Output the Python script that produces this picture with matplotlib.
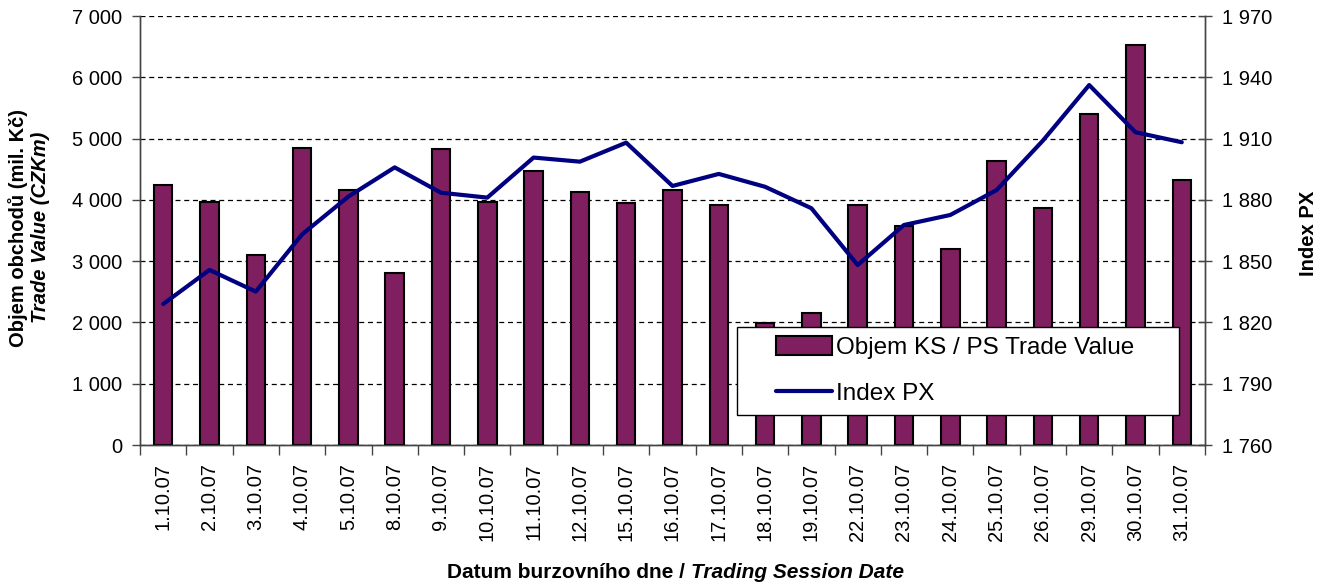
import numpy as np
import matplotlib
matplotlib.use("Agg")
import matplotlib.pyplot as plt
from matplotlib.patches import Rectangle
from matplotlib.ticker import FuncFormatter, FixedLocator

plt.rcParams['font.family'] = ['Liberation Sans', 'DejaVu Sans']

dates = ["1.10.07", "2.10.07", "3.10.07", "4.10.07", "5.10.07", "8.10.07",
         "9.10.07", "10.10.07", "11.10.07", "12.10.07", "15.10.07", "16.10.07",
         "17.10.07", "18.10.07", "19.10.07", "22.10.07", "23.10.07", "24.10.07",
         "25.10.07", "26.10.07", "29.10.07", "30.10.07", "31.10.07"]
trade_value = [4245, 3960, 3100, 4850, 4160, 2810, 4830, 3960, 4475, 4125, 3950, 4160,
               3915, 1985, 2160, 3915, 3580, 3195, 4630, 3870, 5400, 6525, 4320]
index_px = [1829.0, 1845.7, 1835.1, 1863.1, 1881.6, 1895.9, 1883.5, 1881.1, 1900.7,
            1898.7, 1908.0, 1886.8, 1892.7, 1886.4, 1875.9, 1848.1, 1867.7, 1872.6,
            1884.8, 1909.0, 1936.2, 1913.1, 1908.2]

bar_color = '#7F1F5F'
line_color = '#000080'

W, H = 1326, 584
fig = plt.figure(figsize=(W / 100, H / 100), dpi=100)
ax = fig.add_axes([0.1056, 0.238, 0.8031, 0.7346])
ax2 = ax.twinx()

x = np.arange(len(dates))
bars = ax.bar(x, trade_value, width=0.4, color=bar_color, edgecolor='black',
              linewidth=1.5, zorder=3)
line, = ax2.plot(x, index_px, color=line_color, linewidth=3.0, zorder=4,
                 solid_capstyle='round', solid_joinstyle='round')

ax.set_xlim(-0.5, len(dates) - 0.5)
ax.set_ylim(0, 7000)
ax.set_yticks(np.arange(0, 7001, 1000))
ax2.set_ylim(1760, 1970)
ax2.set_yticks(np.arange(1760, 1971, 30))

fmt = FuncFormatter(lambda v, p: f"{v:,.0f}".replace(',', ' '))
ax.yaxis.set_major_formatter(fmt)
ax2.yaxis.set_major_formatter(fmt)

ax.yaxis.grid(True, color='black', linestyle=(0, (4, 3)), linewidth=0.9)
ax.set_axisbelow(True)

# ticks between categories, labels centred under bars
ax.xaxis.set_major_locator(FixedLocator(np.arange(-0.5, len(dates), 1.0)))
ax.xaxis.set_major_formatter(plt.NullFormatter())
ax.xaxis.set_minor_locator(FixedLocator(x))
ax.set_xticklabels(dates, minor=True, rotation=90, fontsize=14.5)
ax.tick_params(axis='x', which='major', direction='out', length=7, width=1, color='#444')
ax.tick_params(axis='x', which='minor', length=0, pad=13)
ax.tick_params(axis='y', direction='out', length=6, width=1, color='#444',
               labelsize=14.5, pad=7)
ax2.tick_params(axis='y', direction='inout', length=10, width=1, color='#444',
                labelsize=14.5, pad=7)

for a in (ax, ax2):
    a.spines['top'].set_visible(False)
    for s in ('left', 'right', 'bottom'):
        a.spines[s].set_color('#444')
        a.spines[s].set_linewidth(1)

fig.text(0.521, 0.019, "Datum burzovního dne / ", fontsize=15, fontweight='bold',
         ha='right', va='center')
fig.text(0.521, 0.019, "Trading Session Date", fontsize=15, fontweight='bold',
         style='italic', ha='left', va='center')
fig.text(0.0136, 0.61, "Objem obchodů (mil. Kč)", fontsize=14.5, fontweight='bold',
         rotation=90, ha='center', va='center')
fig.text(0.0302, 0.61, "Trade Value (CZKm)", fontsize=14.5, fontweight='bold',
         style='italic', rotation=90, ha='center', va='center')
fig.text(0.9865, 0.60, "Index PX", fontsize=14.5, fontweight='bold',
         rotation=90, ha='center', va='center')

# legend box (drawn separately so the entries can sit with a wide left margin)
box = Rectangle((737 / W, 1 - 415 / H), 442 / W, 88 / H, transform=fig.transFigure,
                facecolor='white', edgecolor='black', linewidth=1, zorder=9)
fig.add_artist(box)
leg = fig.legend([bars, line], ['Objem KS / PS Trade Value', 'Index PX'],
                 loc='upper left', bbox_to_anchor=(776 / W, 1 - 336 / H),
                 fontsize=17.5, frameon=False,
                 handlelength=2.3, handleheight=0.8, handletextpad=0.15,
                 labelspacing=0.95, borderpad=0, borderaxespad=0)
leg.set_zorder(10)

fig.savefig("out.png", dpi=100)
